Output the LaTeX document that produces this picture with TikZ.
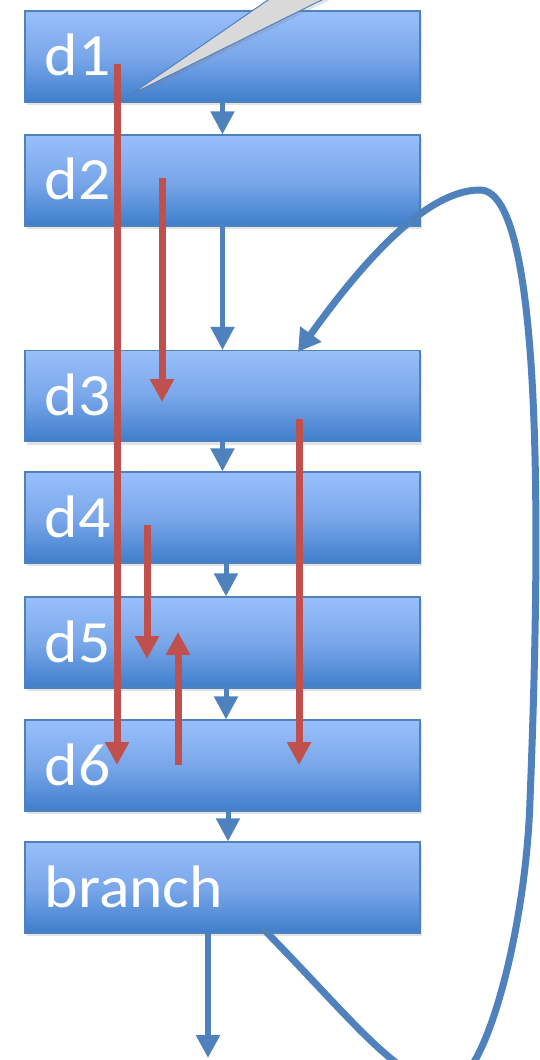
\documentclass[tikz,border=0pt]{standalone}
\usepackage{fontspec}
\setmainfont{Carlito}
\usetikzlibrary{arrows.meta,shadows,calc}
\definecolor{boxtop}{RGB}{152,191,250}
\definecolor{boxmid}{RGB}{122,167,234}
\definecolor{boxbot}{RGB}{62,126,203}
\definecolor{boxline}{RGB}{79,129,189}
\definecolor{conn}{RGB}{79,129,189}
\definecolor{redc}{RGB}{192,80,77}
\definecolor{callgray}{RGB}{217,217,217}
\begin{document}
\begin{tikzpicture}[x=1pt,y=-1pt,
  box/.style={draw=boxline, line width=1.2pt, top color=boxtop, bottom color=boxbot, middle color=boxmid,
    minimum width=395pt, minimum height=91pt, inner sep=0pt,
    drop shadow={shadow xshift=2pt, shadow yshift=-3pt, opacity=0.22}},
  lbl/.style={text=white, font=\fontsize{60}{60}\selectfont, inner sep=0pt, anchor=base west},
  barrow/.style={draw=conn, line width=5pt, -{Triangle[width=23pt,length=23pt]}},
  rarrow/.style={draw=redc, line width=7pt, -{Triangle[width=23pt,length=23pt]}},
  loopline/.style={draw=conn, line width=7pt, -{Triangle[width=25pt,length=22pt]}},
  callout/.style={fill=callgray, draw=conn, line width=1pt,
    drop shadow={shadow xshift=2pt, shadow yshift=-3pt, opacity=0.22}}]
\useasboundingbox (0,0) rectangle (540,1060);

% boxes
\node[box] (d1) at (222.5,56.5) {};
\node[box] (d2) at (222.5,180.5) {};
\node[box] (d3) at (222.5,396) {};
\node[box] (d4) at (222.5,517.5) {};
\node[box] (d5) at (222.5,642.5) {};
\node[box] (d6) at (222.5,765.5) {};
\node[box] (branch) at (222.5,887.5) {};

% labels
\node[lbl] (l1) at (44.5,75.5) {\scalebox{1.06}[1]{d1}};
\node[lbl] (l2) at (44.5,199.5) {\scalebox{1.06}[1]{d2}};
\node[lbl] (l3) at (44.5,415) {\scalebox{1.06}[1]{d3}};
\node[lbl] (l4) at (44.5,537) {\scalebox{1.06}[1]{d4}};
\node[lbl] (l5) at (44.5,662) {\scalebox{1.06}[1]{d5}};
\node[lbl] (l6) at (44.5,785) {\scalebox{1.06}[1]{d6}};
\node[lbl] (lb) at (44.5,907) {\scalebox{1.06}[1]{branch}};

% callout pointer
\path[callout] (130,95) -- (297,-20) -- (362,-20) -- cycle;

% blue flow arrows
\draw[barrow] (d1.south) -- (d2.north);
\draw[barrow] (d2.south) -- (d3.north);
\draw[barrow] (d3.south) -- (d4.north);
\draw[barrow] ($(d4.south)+(3.5,0)$) -- ($(d5.north)+(3.5,0)$);
\draw[barrow] ($(d5.south)+(3.5,0)$) -- ($(d6.north)+(3.5,0)$);
\draw[barrow] ($(d6.south)+(5.5,0)$) -- ($(branch.north)+(5.5,0)$);
\coordinate (exit) at (208,1058);
\draw[barrow, line width=6pt] ($(branch.south)+(-14.5,0)$) -- (exit);

% red arrows
\coordinate (a1) at (117,64);  \coordinate (a2) at (117,765);
\coordinate (b1) at (162,178); \coordinate (b2) at (162,402);
\coordinate (c1) at (299,419); \coordinate (c2) at (299,765);
\coordinate (e1) at (147,525); \coordinate (e2) at (147,659);
\coordinate (f1) at (178,765); \coordinate (f2) at (178,632);
\draw[rarrow] (a1) -- (a2);
\draw[rarrow] (b1) -- (b2);
\draw[rarrow] (c1) -- (c2);
\draw[rarrow] (e1) -- (e2);
\draw[rarrow] (f1) -- (f2);

% loop back arrow
\coordinate (ls) at ($(branch.south)+(39.5,-6)$);
\coordinate (le) at ($(d3.north)+(75.5,2)$);
\draw[loopline] (ls) .. controls (352,1019) and (400,1085) .. (448,1085)
  .. controls (485,1085) and (526,930) .. (530,800)
  .. controls (540,550) and (545,190) .. (480,190)
  .. controls (420,190) and (350,280) .. (le);
\end{tikzpicture}
\end{document}
